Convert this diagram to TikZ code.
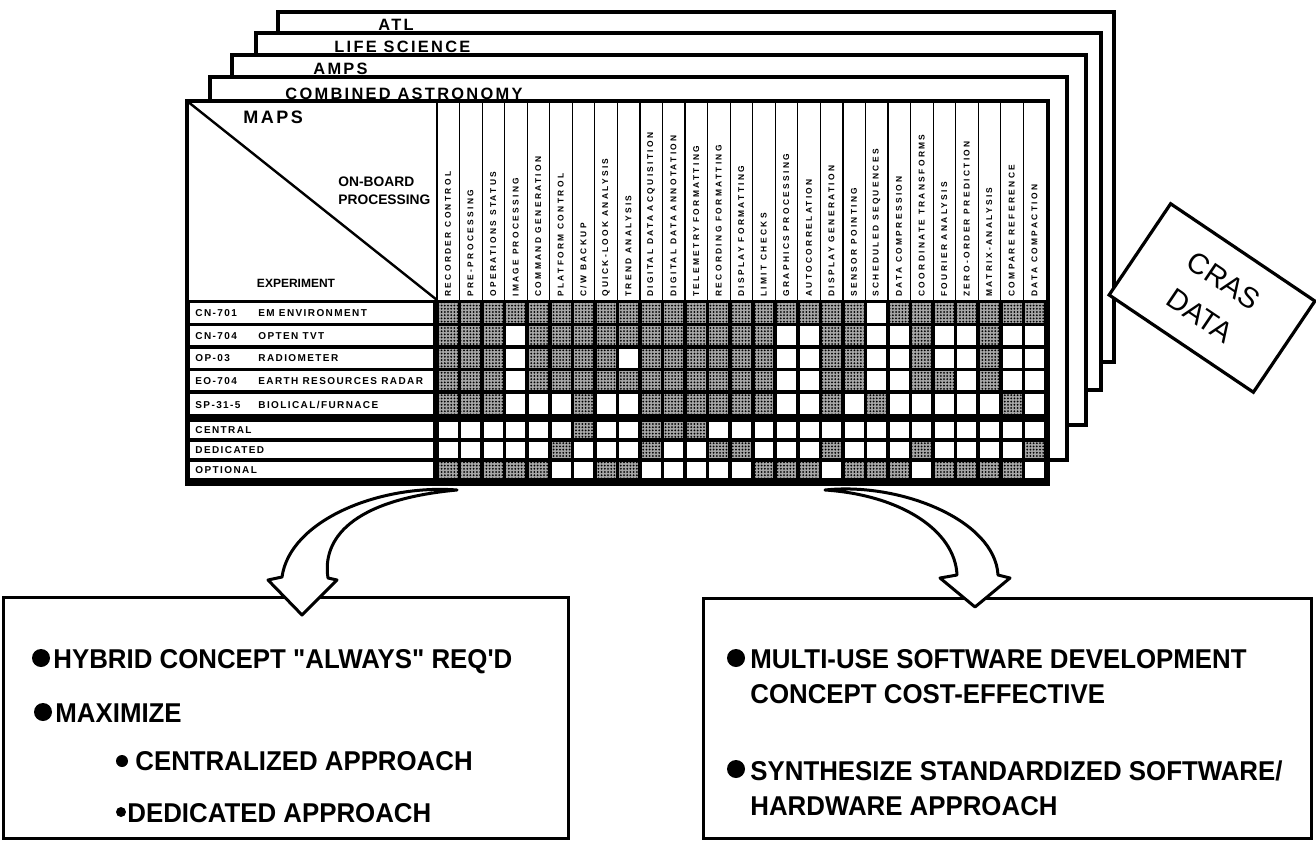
\documentclass[tikz,border=0pt]{standalone}
\usepackage{fontspec}
\setmainfont{Liberation Sans}
\newfontfamily\sheetfont[LetterSpace=14]{Liberation Sans}
\newfontfamily\colfont[LetterSpace=28]{Liberation Sans}
\newfontfamily\boxfont[FakeStretch=0.95]{Liberation Sans}
\usetikzlibrary{patterns.meta}

\tikzset{
	sheet/.style={draw, line width=1.9pt, fill=white},
	sheettitle/.style={font=\sheetfont\bfseries\fontsize{8.2}{9}\selectfont, inner sep=0pt, anchor=base west},
	colhead/.style={font=\colfont\bfseries\fontsize{4.2}{5}\selectfont, rotate=90, anchor=west, inner sep=0pt},
	rowlabel/.style={font=\sheetfont\bfseries\fontsize{5}{6}\selectfont, anchor=west, inner sep=0pt},
	dotcell/.style={fill=black!35, postaction={pattern={Dots[radius=0.5pt,distance=1.6pt]}}},
	bigarrow/.style={draw, line width=1.5pt, fill=white, line join=round},
	panel/.style={draw, line width=1.5pt},
	bullettext/.style={font=\boxfont\bfseries\fontsize{13.6}{15}\selectfont, anchor=base west, inner sep=0pt}
}

\begin{document}
\begin{tikzpicture}[x=0.5pt, y=-0.5pt]
		%%%%% START %%%%%
		\useasboundingbox (0,0) rectangle (1316,840);
		
		\draw[sheet] (278,12) rectangle (1114,362);
		\draw[sheet] (256,33) rectangle (1101,390);
		\draw[sheet] (232,55) rectangle (1086,425);
		\draw[sheet] (210,77) rectangle (1067,460);
		\draw[sheet] (187,101) rectangle (1048,484);
		
		\node[sheettitle] (atl) at (378,31) {ATL};
		\node[sheettitle] (life) at (334,53) {LIFE SCIENCE};
		\node[sheettitle] (amps) at (313,75) {AMPS};
		\node[sheettitle] (comb) at (285,99) {COMBINED ASTRONOMY};
		
		\draw[line width=1.2pt] (187,101) -- (437,300);
		\draw[line width=1.3pt] (437,101) -- (437,300);
		\foreach \i in {1,...,26}
			\draw[line width=0.6pt] (437+22.55*\i,101) -- (437+22.55*\i,300);
		
		\node[font=\sheetfont\bfseries\fontsize{9}{10}\selectfont, anchor=base west, inner sep=0pt] (maps) at (243,124) {MAPS};
		\node[font=\bfseries\fontsize{6.9}{9}\selectfont, align=left, anchor=north west, inner sep=0pt] (onboard) at (338,176) {ON-BOARD\\PROCESSING};
		\node[font=\bfseries\fontsize{6}{7}\selectfont, inner sep=0pt] (experiment) at (296,283) {EXPERIMENT};
		
		\foreach \what [count=\i] in {RECORDER CONTROL, PRE-PROCESSING, OPERATIONS STATUS, IMAGE PROCESSING, COMMAND GENERATION, PLATFORM CONTROL, C/W BACKUP, QUICK-LOOK ANALYSIS, TREND ANALYSIS, DIGITAL DATA ACQUISITION, DIGITAL DATA ANNOTATION, TELEMETRY FORMATTING, RECORDING FORMATTING, DISPLAY FORMATTING, LIMIT CHECKS, GRAPHICS PROCESSING, AUTOCORRELATION, DISPLAY GENERATION, SENSOR POINTING, SCHEDULED SEQUENCES, DATA COMPRESSION, COORDINATE TRANSFORMS, FOURIER ANALYSIS, ZERO-ORDER PREDICTION, MATRIX-ANALYSIS, COMPARE REFERENCE, DATA COMPACTION}
			\node[colhead] (col\i) at (437+22.55*\i-11.5,297) {\what};
		
		\fill (187,300) rectangle (1048,484);
		\foreach \ytop/\ybot in {301/324.5, 324.5/347, 347/369.5, 369.5/392, 392/416, 420/440, 440/460, 460/480}{
			\fill[white] (190,\ytop+1.6) rectangle (433,\ybot-1.6);
			\foreach \c in {1,...,27}
				\fill[white] (437+22.55*\c-20.75,\ytop+1.8) rectangle (437+22.55*\c-1.8,\ybot-1.8);
		}
		\foreach \ytop/\ybot/\cols in {
				301/324.5/{1,...,19,21,22,23,24,25,26,27},
				324.5/347/{1,2,3,5,6,7,8,9,10,11,12,13,14,15,18,19,22,25},
				347/369.5/{1,2,3,5,6,7,8,10,11,12,13,14,15,18,19,22,25},
				369.5/392/{1,2,3,5,6,7,8,9,10,11,12,13,14,15,18,19,22,23,25},
				392/416/{1,2,3,7,10,11,12,13,14,15,18,20,26},
				420/440/{7,10,11,12},
				440/460/{6,10,13,14,18,22,27},
				460/480/{1,...,5,8,9,15,16,17,19,20,21,23,24,25,26}}{
			\foreach \c in \cols
				\fill[dotcell] (437+22.55*\c-20.75,\ytop+1.8) rectangle (437+22.55*\c-1.8,\ybot-1.8);
		}
		\draw[line width=1.9pt] (187,101) rectangle (1048,484);
		
		\foreach \r/\y/\code/\what in {1/313/CN-701/EM ENVIRONMENT, 2/336/CN-704/OPTEN TVT, 3/358/OP-03/RADIOMETER, 4/381/EO-704/EARTH RESOURCES RADAR, 5/405/SP-31-5/{BIOLICAL/FURNACE}}{
			\node[rowlabel] (code\r) at (195,\y) {\code};
			\node[rowlabel] (exp\r) at (258,\y) {\what};
		}
		\foreach \r/\y/\what in {6/430/CENTRAL, 7/450/DEDICATED, 8/470/OPTIONAL}
			\node[rowlabel] (use\r) at (195,\y) {\what};
		
		\node[draw, line width=1.6pt, fill=white, rotate=-34, minimum width=87pt, minimum height=55pt, align=center, font=\fontsize{14.5}{21}\selectfont] (cras) at (1212,298) {CRAS\\DATA};
		
		\draw[panel] (3,597) rectangle (568,838);
		\draw[panel] (703,598) rectangle (1311,838);
		
		\fill (41,658) circle[radius=9];
		\fill (43,712) circle[radius=9];
		\fill (122,761) circle[radius=6];
		\fill (121,812) circle[radius=5];
		\node[bullettext] (hybrid) at (53,668) {HYBRID CONCEPT "ALWAYS" REQ'D};
		\node[bullettext] (maximize) at (55,722) {MAXIMIZE};
		\node[bullettext] (central) at (135,770) {CENTRALIZED APPROACH};
		\node[bullettext] (dedicated) at (127,822) {DEDICATED APPROACH};
		
		\fill (736,658) circle[radius=9];
		\fill (736,769) circle[radius=9];
		\node[bullettext] (multi) at (750,668) {MULTI-USE SOFTWARE DEVELOPMENT};
		\node[bullettext] (costeff) at (750,703) {CONCEPT COST-EFFECTIVE};
		\node[bullettext] (synth) at (750,780) {SYNTHESIZE STANDARDIZED SOFTWARE/};
		\node[bullettext] (hardware) at (750,815) {HARDWARE APPROACH};
		
		\coordinate (ltail) at (457,490);
		\coordinate (ltip) at (302,615);
		\draw[bigarrow] (ltail) .. controls (380,484) and (290,520) .. (282,577) -- (268,580) -- (ltip) -- (337,580) -- (328,578) .. controls (322,540) and (350,500) .. (ltail) -- cycle;
		
		\coordinate (rtail) at (825,490);
		\coordinate (rtip) at (975,607);
		\draw[bigarrow] (rtail) .. controls (900,482) and (995,520) .. (998,575) -- (1010,578) -- (rtip) -- (940,578) -- (957,575) .. controls (955,530) and (900,495) .. (rtail) -- cycle;
		
		%%%%% END %%%%%
\end{tikzpicture}
\end{document}
